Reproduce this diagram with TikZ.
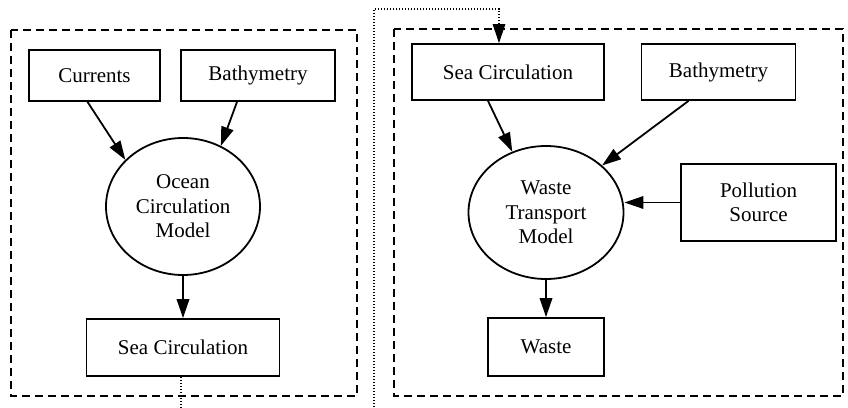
\documentclass[tikz,border=0pt]{standalone}
\usepackage{fontspec}
\setmainfont{Liberation Serif}
\usetikzlibrary{shapes.geometric,arrows.meta}
\begin{document}
\begin{tikzpicture}[x=1pt,y=-1pt,
  every node/.style={font=\fontsize{21}{24.5}\selectfont, align=center, inner sep=0pt},
  boxnode/.style={draw, line width=1.8pt, rectangle},
  ovalnode/.style={draw, line width=1.8pt, ellipse},
  cluster/.style={draw, line width=1.8pt, dash pattern=on 8pt off 5pt},
  tip/.tip={Triangle[length=19pt 0 0,width=12.5pt 0 0]},
  arr/.style={line width=1.8pt, -tip},
  dotline/.style={line width=1.4pt, dash pattern=on 1.4pt off 1.6pt},
]
\useasboundingbox (0,0) rectangle (848,407);
% clusters
\draw[cluster] (11,30) rectangle (357,396);
\draw[cluster] (394,29) rectangle (843,396);
% left nodes
\node[boxnode, minimum width=131pt, minimum height=51pt] (cur) at (94.5,75.5) {Currents};
\node[boxnode, minimum width=154pt, minimum height=51pt] (bathL) at (258,75.5) {Bathymetry};
\node[ovalnode, minimum width=154pt, minimum height=137pt] (ocean) at (183,206.5) {Ocean\\Circulation\\Model};
\node[boxnode, minimum width=193pt, minimum height=57pt] (seaL) at (183,347.5) {Sea Circulation};
% right nodes
\node[boxnode, minimum width=192pt, minimum height=56pt] (seaR) at (508,72) {Sea Circulation};
\node[boxnode, minimum width=154pt, minimum height=56pt] (bathR) at (718.5,72) {Bathymetry};
\node[ovalnode, minimum width=155pt, minimum height=133pt] (waste) at (546,212.5) {Waste\\Transport\\Model};
\node[boxnode, minimum width=155pt, minimum height=77pt] (poll) at (758.5,202.5) {Pollution\\Source};
\node[boxnode, minimum width=116pt, minimum height=58pt] (wbox) at (546,347) {Waste};
% edges
\draw[arr] ([xshift=-7pt]cur.south) -- (ocean.141);
\draw[arr] ([xshift=-21pt]bathL.south) -- (ocean.58);
\draw[arr] (ocean.south) -- (seaL.north);
\draw[arr] ([xshift=-20pt]seaR.south) -- (waste.119);
\draw[arr] ([xshift=-30pt]bathR.south) -- (waste.40);
\draw[arr] (poll.west) -- (poll.west -| waste.east);
\draw[arr] (waste.south) -- (wbox.north);
% off-page dotted connector
\coordinate (offA) at (181,407);
\coordinate (offB) at (374,407);
\coordinate (turn) at (374,9);
\draw[dotline] ([xshift=-2pt]seaL.south) -- (offA);
\draw[dotline, -tip] (offB) -- (turn) -| ([xshift=-9pt]seaR.north);
\end{tikzpicture}
\end{document}
